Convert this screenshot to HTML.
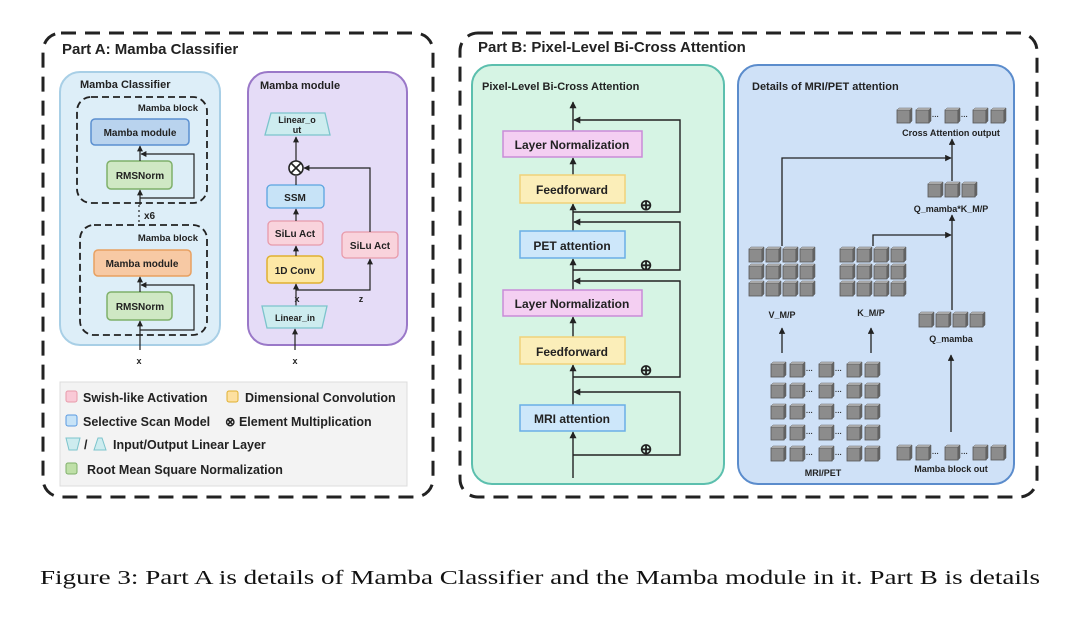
<!DOCTYPE html>
<html><head><meta charset="utf-8"><style>
html,body{margin:0;padding:0;background:#fff;width:1080px;height:618px;overflow:hidden}
svg{display:block}
text{font-family:"Liberation Sans",sans-serif;font-weight:bold;fill:#222}
text.cap{font-family:"Liberation Serif",serif;font-weight:normal;fill:#111}
</style></head><body>
<svg width="1080" height="618" viewBox="0 0 1080 618" xmlns="http://www.w3.org/2000/svg">
<defs>
<marker id="a" viewBox="0 0 10 10" refX="9" refY="5" markerWidth="5" markerHeight="5" orient="auto"><path d="M0,0L10,5L0,10z" fill="#222"/></marker>
<g id="c"><rect x="0" y="2" width="13" height="13" fill="#8c8c8c" stroke="#555" stroke-width="0.8"/><polygon points="0,2 2,0 15,0 13,2" fill="#bdbdbd" stroke="#666" stroke-width="0.5"/><polygon points="13,2 15,0 15,13 13,15" fill="#666" stroke="#555" stroke-width="0.5"/></g>
<g id="row"><use href="#c" x="0"/><use href="#c" x="19"/><text x="35" y="11" font-size="7">···</text><use href="#c" x="48"/><text x="64" y="11" font-size="7">···</text><use href="#c" x="76"/><use href="#c" x="94"/></g>
</defs>

<!-- Part A frame -->
<rect x="43" y="33" width="390" height="464" rx="18" fill="none" stroke="#222" stroke-width="3" stroke-dasharray="15,9"/>
<text x="62" y="54" font-size="15">Part A: Mamba Classifier</text>

<rect x="60" y="72" width="160" height="273" rx="20" fill="#ddeef8" stroke="#a8cfe6" stroke-width="2"/>
<text x="80" y="88" font-size="11">Mamba Classifier</text>
<rect x="77" y="97" width="130" height="106" rx="14" fill="none" stroke="#222" stroke-width="1.8" stroke-dasharray="7,4"/>
<text x="198" y="111" font-size="9.5" text-anchor="end">Mamba block</text>
<rect x="91" y="119" width="98" height="26" rx="4" fill="#b9d3ee" stroke="#5b8fd0" stroke-width="1.5"/>
<text x="140" y="136" font-size="10" text-anchor="middle">Mamba module</text>
<rect x="107" y="161" width="65" height="28" rx="4" fill="#cfe8c4" stroke="#7fb06a" stroke-width="1.5"/>
<text x="140" y="179" font-size="10" text-anchor="middle">RMSNorm</text>
<line x1="140" y1="161" x2="140" y2="146" stroke="#222" stroke-width="1.2" marker-end="url(#a)"/>
<line x1="140" y1="205" x2="140" y2="190" stroke="#222" stroke-width="1.2" marker-end="url(#a)"/>
<polyline points="140,198 194,198 194,154 141,154" fill="none" stroke="#222" stroke-width="1.2" marker-end="url(#a)"/>
<line x1="139" y1="205" x2="139" y2="222" stroke="#222" stroke-width="1.2" stroke-dasharray="2,3"/>
<text x="144" y="219" font-size="10">x6</text>
<rect x="80" y="225" width="127" height="110" rx="14" fill="none" stroke="#222" stroke-width="1.8" stroke-dasharray="7,4"/>
<text x="198" y="241" font-size="9.5" text-anchor="end">Mamba block</text>
<rect x="94" y="250" width="97" height="26" rx="4" fill="#f7c9a4" stroke="#e8a060" stroke-width="1.5"/>
<text x="142" y="267" font-size="10" text-anchor="middle">Mamba module</text>
<rect x="107" y="292" width="65" height="28" rx="4" fill="#cfe8c4" stroke="#7fb06a" stroke-width="1.5"/>
<text x="140" y="310" font-size="10" text-anchor="middle">RMSNorm</text>
<line x1="140" y1="292" x2="140" y2="277" stroke="#222" stroke-width="1.2" marker-end="url(#a)"/>
<line x1="140" y1="350" x2="140" y2="321" stroke="#222" stroke-width="1.2" marker-end="url(#a)"/>
<polyline points="140,330 194,330 194,285 141,285" fill="none" stroke="#222" stroke-width="1.2" marker-end="url(#a)"/>
<text x="139" y="364" font-size="9" text-anchor="middle">x</text>

<rect x="248" y="72" width="159" height="273" rx="20" fill="#e5dcf7" stroke="#9a78c8" stroke-width="2"/>
<text x="260" y="89" font-size="11">Mamba module</text>
<polygon points="271,113 325,113 330,135 265,135" fill="#cdecef" stroke="#7cc4cc" stroke-width="1.3"/>
<text x="297" y="123" font-size="9" text-anchor="middle">Linear_o</text>
<text x="297" y="133" font-size="9" text-anchor="middle">ut</text>
<line x1="296" y1="161" x2="296" y2="137" stroke="#222" stroke-width="1.2" marker-end="url(#a)"/>
<circle cx="296" cy="168" r="7" fill="#fff" stroke="#222" stroke-width="1.6"/>
<path d="M291,163L301,173M301,163L291,173" stroke="#222" stroke-width="1.6"/>
<rect x="267" y="185" width="57" height="23" rx="4" fill="#c7e3f7" stroke="#5aa4e0" stroke-width="1.3"/>
<text x="295" y="201" font-size="10" text-anchor="middle">SSM</text>
<line x1="296" y1="185" x2="296" y2="176" stroke="#222" stroke-width="1.2"/>
<rect x="268" y="221" width="55" height="24" rx="4" fill="#f9d3dc" stroke="#e89aaa" stroke-width="1.3"/>
<text x="295" y="237" font-size="10" text-anchor="middle">SiLu Act</text>
<line x1="296" y1="221" x2="296" y2="209" stroke="#222" stroke-width="1.2" marker-end="url(#a)"/>
<rect x="267" y="256" width="56" height="27" rx="4" fill="#fde8a6" stroke="#e0b030" stroke-width="1.5"/>
<text x="295" y="274" font-size="10" text-anchor="middle">1D Conv</text>
<line x1="296" y1="256" x2="296" y2="246" stroke="#222" stroke-width="1.2" marker-end="url(#a)"/>
<rect x="342" y="232" width="56" height="26" rx="4" fill="#f9d3dc" stroke="#e89aaa" stroke-width="1.3"/>
<text x="370" y="249" font-size="10" text-anchor="middle">SiLu Act</text>
<polyline points="370,232 370,168 304,168" fill="none" stroke="#222" stroke-width="1.2" marker-end="url(#a)"/>
<line x1="296" y1="306" x2="296" y2="284" stroke="#222" stroke-width="1.2" marker-end="url(#a)"/>
<polyline points="296,290 370,290 370,259" fill="none" stroke="#222" stroke-width="1.2" marker-end="url(#a)"/>
<text x="297" y="302" font-size="9" text-anchor="middle">x</text>
<text x="361" y="302" font-size="9" text-anchor="middle">z</text>
<polygon points="262,306 327,306 322,328 267,328" fill="#cdecef" stroke="#7cc4cc" stroke-width="1.3"/>
<text x="295" y="321" font-size="9" text-anchor="middle">Linear_in</text>
<line x1="295" y1="350" x2="295" y2="329" stroke="#222" stroke-width="1.2" marker-end="url(#a)"/>
<text x="295" y="364" font-size="9" text-anchor="middle">x</text>

<!-- legend -->
<rect x="60" y="382" width="347" height="104" fill="#f3f3f3" stroke="#ddd"/>
<rect x="66" y="391" width="11" height="11" rx="2" fill="#f9c9d6" stroke="#e89aaa"/><text x="83" y="402" font-size="12.5">Swish-like Activation</text>
<rect x="227" y="391" width="11" height="11" rx="2" fill="#fde0a0" stroke="#e0b030"/><text x="245" y="402" font-size="12.5">Dimensional Convolution</text>
<rect x="66" y="415" width="11" height="11" rx="2" fill="#c7e3f7" stroke="#5a9ae0"/><text x="83" y="426" font-size="12.5">Selective Scan Model</text>
<text x="225" y="426" font-size="12.5">⊗ Element Multiplication</text>
<polygon points="66,438 80,438 77,450 69,450" fill="#cdecef" stroke="#7cc4cc"/><text x="84" y="449" font-size="12.5">/</text>
<polygon points="94,450 106,450 102,438 98,438" fill="#cdecef" stroke="#7cc4cc"/>
<text x="113" y="449" font-size="12.5">Input/Output Linear Layer</text>
<rect x="66" y="463" width="11" height="11" rx="2" fill="#bfe0a8" stroke="#7fb06a"/><text x="87" y="474" font-size="12.5">Root Mean Square Normalization</text>

<!-- Part B -->
<rect x="460" y="33" width="577" height="464" rx="18" fill="none" stroke="#222" stroke-width="3" stroke-dasharray="15,9"/>
<text x="478" y="52" font-size="15">Part B: Pixel-Level Bi-Cross Attention</text>

<rect x="472" y="65" width="252" height="419" rx="20" fill="#d6f4e4" stroke="#5cbfae" stroke-width="2"/>
<text x="482" y="90" font-size="11">Pixel-Level Bi-Cross Attention</text>
<g stroke="#222" stroke-width="1.4" fill="none">
<line x1="573" y1="478" x2="573" y2="432" marker-end="url(#a)"/>
<line x1="573" y1="405" x2="573" y2="365" marker-end="url(#a)"/>
<line x1="573" y1="337" x2="573" y2="317" marker-end="url(#a)"/>
<line x1="573" y1="290" x2="573" y2="259" marker-end="url(#a)"/>
<line x1="573" y1="231" x2="573" y2="204" marker-end="url(#a)"/>
<line x1="573" y1="175" x2="573" y2="158" marker-end="url(#a)"/>
<line x1="573" y1="131" x2="573" y2="102" marker-end="url(#a)"/>
<polyline points="573,455 680,455 680,392 574,392" marker-end="url(#a)"/>
<polyline points="573,377 680,377 680,281 574,281" marker-end="url(#a)"/>
<polyline points="573,270 680,270 680,222 574,222" marker-end="url(#a)"/>
<polyline points="573,212 680,212 680,120 574,120" marker-end="url(#a)"/>
</g>
<text x="646" y="454" text-anchor="middle" font-size="15">⊕</text>
<text x="646" y="375" text-anchor="middle" font-size="15">⊕</text>
<text x="646" y="270" text-anchor="middle" font-size="15">⊕</text>
<text x="646" y="210" text-anchor="middle" font-size="15">⊕</text>
<rect x="503" y="131" width="139" height="26" fill="#f4cff2" stroke="#c98bd8" stroke-width="1.5"/>
<text x="572" y="149" font-size="12" text-anchor="middle">Layer Normalization</text>
<rect x="520" y="175" width="105" height="28" fill="#fbeeb9" stroke="#f0d27a" stroke-width="1.5"/>
<text x="572" y="194" font-size="12" text-anchor="middle">Feedforward</text>
<rect x="520" y="231" width="105" height="27" fill="#cde7fa" stroke="#6aaee6" stroke-width="1.5"/>
<text x="572" y="250" font-size="12" text-anchor="middle">PET attention</text>
<rect x="503" y="290" width="139" height="26" fill="#f4cff2" stroke="#c98bd8" stroke-width="1.5"/>
<text x="572" y="308" font-size="12" text-anchor="middle">Layer Normalization</text>
<rect x="520" y="337" width="105" height="27" fill="#fbeeb9" stroke="#f0d27a" stroke-width="1.5"/>
<text x="572" y="356" font-size="12" text-anchor="middle">Feedforward</text>
<rect x="520" y="405" width="105" height="26" fill="#cde7fa" stroke="#6aaee6" stroke-width="1.5"/>
<text x="572" y="423" font-size="12" text-anchor="middle">MRI attention</text>

<rect x="738" y="65" width="276" height="419" rx="20" fill="#cfe1f7" stroke="#5b8ccc" stroke-width="2"/>
<text x="752" y="90" font-size="11">Details of MRI/PET attention</text>
<g>
<use href="#c" x="749" y="247"/><use href="#c" x="766" y="247"/><use href="#c" x="783" y="247"/><use href="#c" x="800" y="247"/>
<use href="#c" x="749" y="264"/><use href="#c" x="766" y="264"/><use href="#c" x="783" y="264"/><use href="#c" x="800" y="264"/>
<use href="#c" x="749" y="281"/><use href="#c" x="766" y="281"/><use href="#c" x="783" y="281"/><use href="#c" x="800" y="281"/>
<use href="#c" x="840" y="247"/><use href="#c" x="857" y="247"/><use href="#c" x="874" y="247"/><use href="#c" x="891" y="247"/>
<use href="#c" x="840" y="264"/><use href="#c" x="857" y="264"/><use href="#c" x="874" y="264"/><use href="#c" x="891" y="264"/>
<use href="#c" x="840" y="281"/><use href="#c" x="857" y="281"/><use href="#c" x="874" y="281"/><use href="#c" x="891" y="281"/>
</g>
<text x="782" y="318" font-size="9" text-anchor="middle">V_M/P</text>
<text x="871" y="316" font-size="9" text-anchor="middle">K_M/P</text>
<use href="#row" x="771" y="362"/><use href="#row" x="771" y="383"/><use href="#row" x="771" y="404"/><use href="#row" x="771" y="425"/><use href="#row" x="771" y="446"/>
<text x="823" y="476" font-size="9" text-anchor="middle">MRI/PET</text>
<use href="#row" x="897" y="445"/>
<text x="951" y="472" font-size="9" text-anchor="middle">Mamba block out</text>
<use href="#c" x="919" y="312"/><use href="#c" x="936" y="312"/><use href="#c" x="953" y="312"/><use href="#c" x="970" y="312"/>
<text x="951" y="342" font-size="9" text-anchor="middle">Q_mamba</text>
<use href="#c" x="928" y="182"/><use href="#c" x="945" y="182"/><use href="#c" x="962" y="182"/>
<text x="951" y="212" font-size="9" text-anchor="middle">Q_mamba*K_M/P</text>
<use href="#row" x="897" y="108"/>
<text x="951" y="136" font-size="9" text-anchor="middle">Cross Attention output</text>
<g stroke="#222" stroke-width="1.3" fill="none">
<line x1="782" y1="353" x2="782" y2="328" marker-end="url(#a)"/>
<line x1="871" y1="353" x2="871" y2="328" marker-end="url(#a)"/>
<line x1="951" y1="432" x2="951" y2="355" marker-end="url(#a)"/>
<line x1="952" y1="310" x2="952" y2="215" marker-end="url(#a)"/>
<line x1="952" y1="181" x2="952" y2="139" marker-end="url(#a)"/>
<polyline points="782,246 782,158 951,158" marker-end="url(#a)"/>
<polyline points="873,246 873,235 951,235" marker-end="url(#a)"/>
</g>

<text class="cap" x="40" y="584" font-size="19.5" textLength="1000" lengthAdjust="spacingAndGlyphs">Figure 3: Part A is details of Mamba Classifier and the Mamba module in it. Part B is details</text>
</svg>
</body></html>
